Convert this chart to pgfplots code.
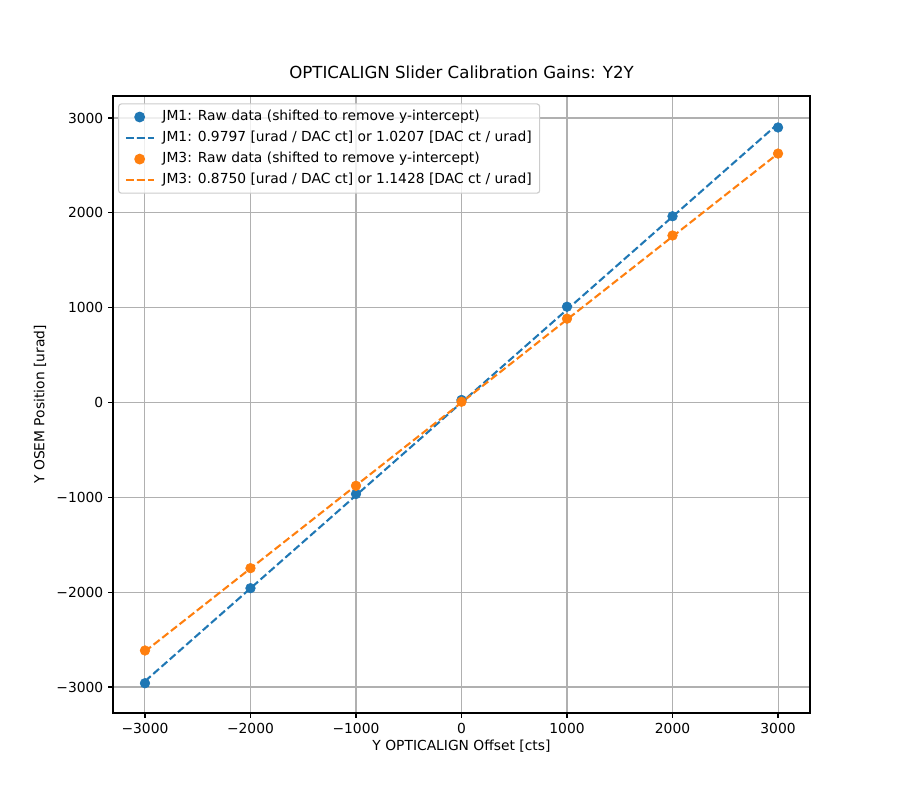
\documentclass[border=0pt]{standalone}
\usepackage{pgfplots}
\pgfplotsset{compat=1.18}
\usepackage{fontspec}
\setmainfont{DejaVu Sans}
\definecolor{tabblue}{HTML}{1F77B4}
\definecolor{taborange}{HTML}{FF7F0E}
\definecolor{gridgray}{HTML}{B0B0B0}
\definecolor{leggray}{HTML}{CCCCCC}
\begin{document}
\begin{tikzpicture}
\begin{axis}[
  at={(0,0)}, anchor=south west,
  scale only axis, width=6.97in, height=6.17in,
  xmin=-3303, xmax=3303, ymin=-3274, ymax=3232,
  axis line style={line width=0.8pt, black},
  tick pos=left, tick align=outside, major tick length=3.5pt,
  tick style={line width=0.8pt, black},
  xtick={-3000,-2000,-1000,0,1000,2000,3000},
  xticklabels={−3000,−2000,−1000,0,1000,2000,3000},
  ytick={-3000,-2000,-1000,0,1000,2000,3000},
  yticklabels={−3000,−2000,−1000,0,1000,2000,3000},
  ticklabel style={font=\fontsize{10}{12}\selectfont},
  /pgf/number format/assume math mode=true,
  grid=major, major grid style={gridgray, line width=0.75pt},
  title={OPTICALIGN Slider Calibration Gains: Y2Y},
  title style={at={(axis description cs:0.5,1.0146)}, anchor=base, font=\fontsize{12}{14}\selectfont},
  xlabel={Y OPTICALIGN Offset [cts]},
  xlabel style={at={(axis description cs:0.5,-0.054)}, anchor=center, font=\fontsize{10}{12}\selectfont},
  ylabel={Y OSEM Position [urad]},
  ylabel style={at={(axis description cs:-0.1047,0.5)}, anchor=center, font=\fontsize{10}{12}\selectfont},
  legend cell align=left,
  legend style={at={(axis description cs:0.0072,0.988)}, anchor=north west,
    draw=leggray, line width=0.8pt, rounded corners=2pt, fill=white, fill opacity=0.8, text opacity=1,
    font=\fontsize{10}{12}\selectfont,
    nodes={inner sep=1.2pt, text height=8pt, text depth=2.5pt},
    row sep=2.3pt, inner xsep=4.5pt, inner ysep=3pt,
    /tikz/every odd column/.append style={column sep=4.5pt}},
  legend image code/.code={\draw[mark repeat=2,mark phase=2,#1,fill opacity=1,draw opacity=1] plot coordinates {(0pt,0pt) (10pt,0pt) (20pt,0pt)};},
]
\addplot[only marks, mark=*, mark size=3.5pt, tabblue, mark options={fill=tabblue, draw=tabblue}]
  coordinates {(-3000,-2960) (-2000,-1958) (-1000,-965) (0,27) (1000,1010) (2000,1964) (3000,2900)};
\addlegendentry{JM1: Raw data (shifted to remove y-intercept)}
\addplot[tabblue, line width=1.5pt, dash pattern=on 5.55pt off 2.4pt]
  coordinates {(-3000,-2939.1) (3000,2939.1)};
\addlegendentry{JM1: 0.9797 [urad / DAC ct] or 1.0207 [DAC ct / urad]}
\addplot[only marks, mark=*, mark size=3.5pt, taborange, mark options={fill=taborange, draw=taborange}]
  coordinates {(-3000,-2615) (-2000,-1747) (-1000,-878) (0,8) (1000,884) (2000,1761) (3000,2625)};
\addlegendentry{JM3: Raw data (shifted to remove y-intercept)}
\addplot[taborange, line width=1.5pt, dash pattern=on 5.55pt off 2.4pt]
  coordinates {(-3000,-2625) (3000,2625)};
\addlegendentry{JM3: 0.8750 [urad / DAC ct] or 1.1428 [DAC ct / urad]}
\end{axis}
\pgfresetboundingbox
\useasboundingbox (-1.13in,-0.87in) rectangle (7.87in,7.13in);
\end{tikzpicture}
\end{document}
